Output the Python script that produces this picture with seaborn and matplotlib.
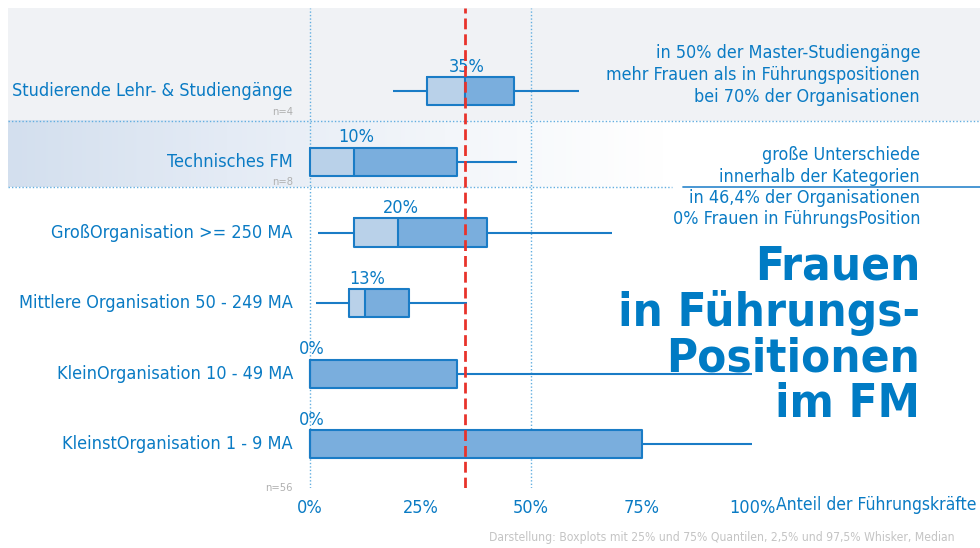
import numpy as np
import pandas as pd
import matplotlib
matplotlib.use("Agg")
import matplotlib.pyplot as plt
import seaborn as sns
from matplotlib.colors import LinearSegmentedColormap

# ---------------- data ----------------
categories = [
    "Studierende Lehr- & Studiengänge",
    "Technisches FM",
    "GroßOrganisation >= 250 MA",
    "Mittlere Organisation 50 - 249 MA",
    "KleinOrganisation 10 - 49 MA",
    "KleinstOrganisation 1 - 9 MA",
]
whisker_low = [18.8, 0, 1.9, 1.3, 0, 0]
q1 = [26.5, 0, 10, 8.8, 0, 0]
median = [35, 10, 20, 12.5, 0, 0]
q3 = [46.2, 33.3, 40, 22.5, 33.3, 75]
whisker_high = [60.9, 46.8, 68.3, 35.6, 100, 100]
median_labels = ["35%", "10%", "20%", "13%", "0%", "0%"]
n_rows = [0, 1, 5]
n_texts = ["n=4", "n=8", "n=56"]
reference_value = 35
x_ticks = [0, 25, 50, 75, 100]
x_tick_labels = ["0%", "25%", "50%", "75%", "100%"]
x_title = "Anteil der Führungskräfte"
note_1 = ["in 50% der Master-Studiengänge",
          "mehr Frauen als in Führungspositionen",
          "bei 70% der Organisationen"]
note_2 = ["große Unterschiede",
          "innerhalb der Kategorien",
          "in 46,4% der Organisationen",
          "0% Frauen in FührungsPosition"]
title_lines = ["Frauen", "in Führungs-", "Positionen", "im FM"]
footnote = "Darstellung: Boxplots mit 25% und 75% Quantilen, 2,5% und 97,5% Whisker, Median"

# long table: each category described by its five summary values
rows = []
for c, a, b, m, d, e in zip(categories, whisker_low, q1, median, q3, whisker_high):
    for v in (a, b, m, d, e):
        rows.append((c, v))
df = pd.DataFrame(rows, columns=["Kategorie", "Anteil"])

# ---------------- style ----------------
sns.set_style("white")
plt.rcParams["font.family"] = ["DejaVu Sans"]
plt.rcParams["font.stretch"] = "condensed"
BLUE = "#0a7bc4"
EDGE = "#1a7cc6"
DARK = "#7aaedd"
LIGHT = "#b9d1e9"
GRID = "#62aee0"
RED = "#e8332b"

W, H = 980, 548
fig = plt.figure(figsize=(W / 100, H / 100), dpi=100)
L, R, T, B = 8, 980, 8, 488
ax = fig.add_axes([L / W, 1 - B / H, (R - L) / W, (B - T) / H])

x0px, ppu = 310, 4.42
xmin, xmax = (L - x0px) / ppu, (R - x0px) / ppu
row0px, rowsp = 91.3, 70.6
ytop = -(row0px - T) / rowsp
ybot = 5 + (B - (row0px + 5 * rowsp)) / rowsp

sns.boxplot(data=df, x="Anteil", y="Kategorie", order=categories, orient="h",
            whis=(0, 100), width=0.4, fill=False, color=EDGE, linecolor=EDGE,
            linewidth=1.5, showcaps=False, fliersize=0, ax=ax)

# two-tone box fill (Q1-median light, median-Q3 dark)
pos = np.arange(len(categories))
ax.barh(pos, np.subtract(median, q1), left=q1, height=0.4, color=LIGHT,
        linewidth=0, zorder=1.5)
ax.barh(pos, np.subtract(q3, median), left=median, height=0.4, color=DARK,
        linewidth=0, zorder=1.5)

# background bands
band1 = 0.42
band2 = 1.36
ax.axhspan(ytop, band1, color="#f0f2f5", zorder=0, lw=0)
cm = LinearSegmentedColormap.from_list("g", ["#d3dfee", "#e4ebf5", "#f3f6fa", "#ffffff"])
ax.imshow(np.linspace(0, 1, 256).reshape(1, -1), extent=[xmin, 80, band2, band1],
          cmap=cm, aspect="auto", zorder=0, interpolation="bilinear")
ax.axhline(band1, color=GRID, lw=1, ls=(0, (1, 1.5)), zorder=1)
ax.plot([xmin, (672 - x0px) / ppu], [band2, band2], color=GRID, lw=1,
        ls=(0, (1, 1.5)), zorder=1)
ax.plot([(683 - x0px) / ppu, xmax], [band2 - 0.01, band2 - 0.01], color="#3a8fd0",
        lw=1.3, zorder=1)

# grid lines and reference line
for g in (0, 50):
    ax.axvline(g, color=GRID, lw=1, ls=(0, (1, 1.5)), zorder=1.2)
ax.axvline(reference_value, color=RED, lw=2.0, dashes=(3.9, 1.8), zorder=4)

ax.set_xlim(xmin, xmax)
ax.set_ylim(ybot, ytop)
for s in ax.spines.values():
    s.set_visible(False)
ax.set_yticks([])
ax.set_ylabel("")
ax.set_xlabel("")
ax.set_xticks(x_ticks, x_tick_labels)
ax.tick_params(axis="x", length=0, pad=8, labelsize=13, labelcolor=BLUE)
ax.set_facecolor("white")

# category labels
for i, c in enumerate(categories):
    ax.text(-3.85, i, c, ha="right", va="center", fontsize=13, color=BLUE)
for r, t in zip(n_rows, n_texts):
    yy = r + 0.29 if r != 5 else 5.62
    ax.text(-3.85, yy, t, ha="right", va="center", fontsize=8, color="#b0b0b0")
# median labels
for i, lab in enumerate(median_labels):
    ax.text(median[i] + 0.5, i - 0.22, lab, ha="center", va="bottom",
            fontsize=13, color=BLUE)

fig.text(776 / W, 1 - 505 / H, x_title, ha="left", va="center", fontsize=12.6, color=BLUE)

# notes
for k, line in enumerate(note_1):
    fig.text(920 / W, 1 - (53 + 22 * k) / H, line, ha="right", va="center",
             fontsize=12.9, color=BLUE)
for k, line in enumerate(note_2):
    fig.text(920 / W, 1 - (155 + 21.5 * k) / H, line, ha="right", va="center",
             fontsize=12.9, color=BLUE)

# title
for k, line in enumerate(title_lines):
    fig.text(920 / W, 1 - (280 + 45.7 * k) / H, line, ha="right", va="baseline",
             fontsize=34, fontweight="bold", color="#007bc4")

fig.text(955 / W, 1 - 538 / H, footnote, ha="right", va="center", fontsize=8.7,
         color="#c4c4c4")

fig.savefig("out.png", dpi=100, facecolor="white")
